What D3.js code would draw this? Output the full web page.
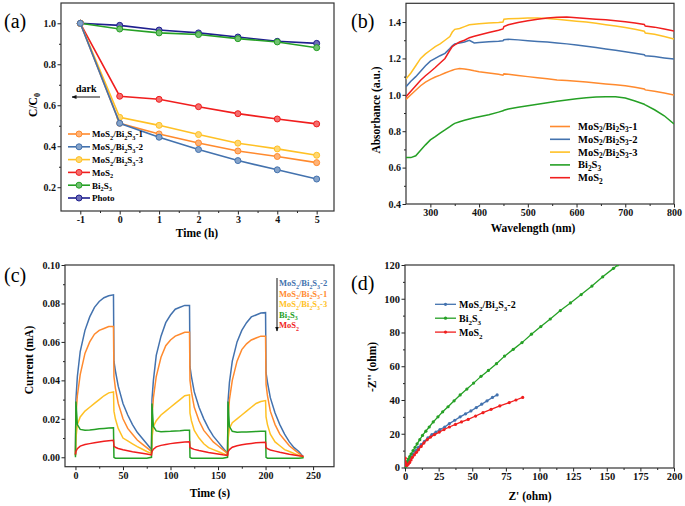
<!DOCTYPE html>
<html><head><meta charset="utf-8">
<script src="https://cdn.jsdelivr.net/npm/d3@7"></script>
<style>body{margin:0;background:#fff}svg{display:block}</style>
</head><body>
<script>
// ---------- DATA ----------
// (a) photodegradation
const aTimes = [-1, 0, 1, 2, 3, 4, 5];
const aLabels = ["MoS_2/Bi_2S_3-1", "MoS_2/Bi_2S_3-2", "MoS_2/Bi_2S_3-3", "MoS_2", "Bi_2S_3", "Photo"];
const aComp1 = [1.0, 0.512, 0.460, 0.416, 0.377, 0.350, 0.320];
const aComp2 = [1.0, 0.512, 0.444, 0.384, 0.330, 0.285, 0.240];
const aComp3 = [1.0, 0.541, 0.502, 0.457, 0.415, 0.387, 0.356];
const aMoS2  = [1.0, 0.644, 0.629, 0.593, 0.559, 0.533, 0.509];
const aBi2S3 = [1.0, 0.972, 0.953, 0.945, 0.925, 0.909, 0.881];
const aPhoto = [1.0, 0.990, 0.967, 0.953, 0.933, 0.912, 0.902];
const aXTicks = [-1, 0, 1, 2, 3, 4, 5];
const aYTicks = [0.2, 0.4, 0.6, 0.8, 1.0];

// (b) UV-vis absorbance
const bWave = [250,260,270,280,290,300,310,320,330,340,345,350,360,370,380,390,400,420,440,449,451,460,480,500,520,540,560,580,600,620,640,660,680,700,720,739,741,760,780,800];
const bLabels = ["MoS_2/Bi_2S_3-1", "MoS_2/Bi_2S_3-2", "MoS_2/Bi_2S_3-3", "Bi_2S_3", "MoS_2"];
const bComp1 = [0.975,1.0,1.025,1.05,1.07,1.085,1.098,1.108,1.12,1.13,1.135,1.14,1.145,1.142,1.138,1.132,1.127,1.12,1.113,1.108,1.115,1.113,1.106,1.10,1.094,1.088,1.082,1.079,1.075,1.07,1.065,1.06,1.055,1.05,1.042,1.032,1.027,1.02,1.01,0.999];
const bComp2 = [1.045,1.075,1.10,1.13,1.16,1.185,1.20,1.215,1.228,1.255,1.27,1.28,1.285,1.29,1.30,1.285,1.288,1.292,1.295,1.297,1.303,1.305,1.302,1.297,1.293,1.29,1.285,1.28,1.274,1.267,1.26,1.252,1.245,1.237,1.228,1.22,1.215,1.21,1.203,1.197];
const bComp3 = [1.087,1.12,1.16,1.20,1.225,1.245,1.265,1.28,1.30,1.32,1.345,1.36,1.365,1.375,1.385,1.388,1.39,1.395,1.398,1.40,1.415,1.418,1.42,1.422,1.422,1.42,1.415,1.41,1.405,1.40,1.393,1.385,1.378,1.37,1.36,1.35,1.34,1.333,1.32,1.307];
const bBi2S3 = [0.655,0.655,0.665,0.695,0.725,0.752,0.77,0.79,0.807,0.825,0.835,0.843,0.852,0.86,0.867,0.874,0.88,0.89,0.905,0.912,0.915,0.922,0.932,0.94,0.948,0.957,0.965,0.972,0.978,0.984,0.988,0.99,0.989,0.982,0.966,0.948,0.945,0.918,0.885,0.84];
const bMoS2  = [0.99,1.02,1.05,1.08,1.105,1.127,1.15,1.175,1.20,1.245,1.265,1.275,1.29,1.30,1.314,1.322,1.329,1.342,1.355,1.362,1.375,1.385,1.398,1.407,1.415,1.422,1.427,1.428,1.424,1.42,1.416,1.412,1.407,1.402,1.395,1.387,1.378,1.372,1.362,1.35];
const bXTicks = [300, 400, 500, 600, 700, 800];
const bYTicks = [0.4, 0.6, 0.8, 1.0, 1.2, 1.4];

// (c) transient photocurrent
const cTime = [0,0.5,2,5,10,15,20,25,30,35,40,40.5,42,45,50,55,60,65,70,75,
  80,80.5,82,85,90,95,100,105,110,115,120,120.5,122,125,130,135,140,145,150,155,
  160,160.5,162,165,170,175,180,185,190,195,200,200.5,202,205,210,215,220,225,230,235,240];
const cLabels = ["MoS_2/Bi_2S_3-2", "MoS_2/Bi_2S_3-1", "MoS_2/Bi_2S_3-3", "Bi_2S_3", "MoS_2"];
const cComp2 = [0.001,0.030,0.042,0.055,0.066,0.073,0.078,0.081,0.083,0.084,0.0845,0.050,0.045,0.037,0.028,0.022,0.017,0.013,0.010,0.007,
  0.004,0.030,0.040,0.053,0.063,0.070,0.074,0.077,0.078,0.079,0.079,0.047,0.042,0.034,0.026,0.020,0.015,0.011,0.008,0.005,
  0.002,0.029,0.039,0.050,0.060,0.066,0.070,0.073,0.074,0.075,0.0752,0.044,0.039,0.031,0.023,0.017,0.012,0.008,0.005,0.003,0.000];
const cComp1 = [0.001,0.022,0.032,0.043,0.054,0.060,0.064,0.066,0.067,0.068,0.068,0.042,0.036,0.028,0.020,0.015,0.012,0.009,0.007,0.005,
  0.003,0.021,0.031,0.042,0.052,0.058,0.061,0.063,0.064,0.065,0.065,0.040,0.034,0.026,0.019,0.014,0.011,0.008,0.006,0.004,
  0.002,0.020,0.030,0.040,0.050,0.056,0.059,0.061,0.062,0.063,0.063,0.038,0.032,0.024,0.017,0.012,0.009,0.006,0.004,0.002,0.000];
const cComp3 = [0.001,0.010,0.017,0.021,0.024,0.026,0.028,0.030,0.032,0.0335,0.034,0.024,0.020,0.015,0.010,0.0085,0.007,0.0055,0.0043,0.003,
  0.002,0.010,0.016,0.019,0.022,0.024,0.026,0.028,0.030,0.032,0.0325,0.023,0.019,0.014,0.010,0.007,0.005,0.004,0.003,0.002,
  0.001,0.009,0.015,0.018,0.020,0.022,0.024,0.026,0.028,0.029,0.0295,0.021,0.017,0.012,0.008,0.006,0.004,0.003,0.002,0.001,0.000];
const cBi2S3 = [0.000,0.029,0.017,0.0145,0.014,0.0142,0.0145,0.0148,0.015,0.0152,0.0153,0.000,-0.0005,-0.0005,-0.0005,-0.0005,-0.0005,-0.0005,-0.0005,-0.0005,
  0.000,0.028,0.016,0.0137,0.0133,0.0134,0.0135,0.0137,0.0138,0.014,0.014,0.000,-0.0005,-0.0005,-0.0005,-0.0005,-0.0005,-0.0005,-0.0005,-0.0005,
  0.000,0.029,0.016,0.0135,0.013,0.0131,0.0132,0.0133,0.0134,0.0135,0.0135,0.000,-0.0005,-0.0005,-0.0005,-0.0005,-0.0005,-0.0005,-0.0005,-0.0005,-0.0003];
const cMoS2 = [0.0015,0.003,0.0045,0.0058,0.0066,0.0071,0.0075,0.0079,0.0083,0.0086,0.0088,0.0058,0.0052,0.0046,0.0039,0.0034,0.0029,0.0025,0.0021,0.0017,
  0.0012,0.003,0.0042,0.0054,0.0062,0.0067,0.0071,0.0074,0.0077,0.0079,0.008,0.0052,0.0047,0.0041,0.0035,0.003,0.0025,0.0021,0.0017,0.0013,
  0.001,0.0028,0.004,0.0052,0.006,0.0065,0.0069,0.0072,0.0075,0.0077,0.0078,0.005,0.0045,0.0038,0.0032,0.0026,0.0021,0.0016,0.0012,0.0008,0.0005];
const cXTicks = [0, 50, 100, 150, 200, 250];
const cYTicks = [0.00, 0.02, 0.04, 0.06, 0.08, 0.10];

// (d) Nyquist plots: [Z', -Z'']
const dLabels = ["MoS_2/Bi_2S_3-2", "Bi_2S_3", "MoS_2"];
const dComp2 = [[0.5,0.5],[1,1.5],[2,3],[3,4.5],[4.5,6],[6,8],[8,10],[10,12],[12,13.5],[14.5,15.5],[17,17.5],[20,19.5],[23,21],[26,22.5],[29.5,24],[33,26],[37,28],[41,30],[45,31.8],[49,33.5],[53,35.5],[57,37.5],[61,39.5],[65,41.5],[68.5,43]];
const dBi2S3 = [[0.3,0.5],[0.8,2],[1.5,3.5],[2.5,5],[3.5,6.5],[4.5,8],[6,10],[7.5,12],[9,14],[11,16.5],[13,19],[15.5,21.5],[18,24],[21,27],[24.5,30],[28,33],[32,36],[36.5,39.5],[41,43],[46,46.5],[51,50],[56.5,54],[62,57.5],[68,61.5],[74,66],[80.5,70],[87,74],[94,79],[101,83.5],[108,88],[115.5,93],[123,97.5],[131,102.5],[139,107.5],[147,113],[155,118],[158,120]];
const dMoS2 = [[0.2,5.5],[0.4,3],[0.8,1.5],[1.5,1.2],[2.5,2],[3.5,3],[4.5,4.5],[5.5,6],[7,7.5],[8.5,9],[10,10.5],[12,12.5],[14,14.5],[16.5,16.5],[19,18],[22,19.5],[25.5,21],[29,22.5],[33,24],[37.5,25.5],[42,27],[47,28.5],[52.5,30.5],[58,32.5],[64,34.5],[70.5,36.5],[77.5,38.5],[82.5,40],[87.5,41.5]];
const dXTicks = [0, 25, 50, 75, 100, 125, 150, 175, 200];
const dYTicks = [0, 20, 40, 60, 80, 100, 120];

// ---------- STYLE ----------
const C = {orange:"#ff8a2e", blue:"#4372ae", yellow:"#ffc125", red:"#f01e1e", green:"#25a025", navy:"#1f1f8f"};
const FONT = "'Liberation Serif','Times New Roman',serif";

const svg = d3.select("body").append("svg").attr("width", 685).attr("height", 506)
  .style("font-family", FONT);

function rich(textSel, str, size, shift = 0.3) {
  // "_x" => subscript character
  const parts = [];
  for (let i = 0; i < str.length; i++) {
    if (str[i] === "_") { parts.push({t: str[i+1], sub: true}); i++; }
    else {
      if (parts.length && !parts[parts.length-1].sub) parts[parts.length-1].t += str[i];
      else parts.push({t: str[i], sub: false});
    }
  }
  let shifted = false;
  parts.forEach(p => {
    const ts = textSel.append("tspan").text(p.t);
    if (p.sub) { ts.attr("font-size", size*0.7).attr("dy", shifted ? 0 : size*shift); shifted = true; }
    else { if (shifted) ts.attr("dy", -size*shift); shifted = false; }
  });
  return textSel;
}

const plainNum = d => String(d);

function panel(p) {
  const g = svg.append("g");
  const [x0, x1] = p.x.range(), [y0, y1] = p.y.range();
  const id = "clip" + p.name;
  svg.append("clipPath").attr("id", id).append("rect")
    .attr("x", x0).attr("y", y1).attr("width", x1 - x0).attr("height", y0 - y1);
  const ax = (axis, vals, size, fmt) => axis.tickValues(vals).tickSize(size).tickPadding(1.5).tickFormat(fmt);
  const style = (s, fs) => {
    s.select(".domain").remove();
    s.selectAll("line").attr("stroke", "#222").attr("stroke-width", 1);
    s.selectAll("text").attr("font-family", FONT).attr("font-weight", "bold").attr("font-size", fs).attr("fill", "#111");
  };
  g.append("g").attr("transform", `translate(0,${y0})`).call(ax(d3.axisBottom(p.x), p.xMinor, 2, () => "")).call(s => style(s, p.fs));
  g.append("g").attr("transform", `translate(0,${y0})`).call(ax(d3.axisBottom(p.x), p.xTicks, 3.5, p.xFmt)).call(s => style(s, p.fs));
  g.append("g").attr("transform", `translate(${x0},0)`).call(ax(d3.axisLeft(p.y), p.yMinor, 2, () => "")).call(s => style(s, p.fs));
  g.append("g").attr("transform", `translate(${x0},0)`).call(ax(d3.axisLeft(p.y), p.yTicks, 3.5, p.yFmt)).call(s => style(s, p.fs));
  g.append("rect").attr("x", x0).attr("y", y1).attr("width", x1 - x0).attr("height", y0 - y1)
    .attr("fill", "none").attr("stroke", "#333").attr("stroke-width", 1.2);
  rich(g.append("text").attr("x", p.xt[0]).attr("y", p.xt[1]).attr("text-anchor", "middle")
    .attr("font-weight", "bold").attr("font-size", p.tfs), p.xTitle, p.tfs);
  rich(g.append("text").attr("transform", `translate(${p.yt[0]},${p.yt[1]}) rotate(-90)`).attr("text-anchor", "middle")
    .attr("font-weight", "bold").attr("font-size", p.tfs), p.yTitle, p.tfs);
  g.append("text").attr("x", p.lab[0]).attr("y", p.lab[1]).attr("font-size", 20).text(p.label);
  return g.append("g").attr("clip-path", `url(#${id})`);
}

svg.append("defs").append("marker").attr("id", "arr").attr("viewBox", "0 0 10 10").attr("refX", 9).attr("refY", 5)
  .attr("markerWidth", 5).attr("markerHeight", 5).attr("orient", "auto")
  .append("path").attr("d", "M0,1 L10,5 L0,9 z").attr("fill", "#111");

// ---------- (a) ----------
{
  const x = d3.scaleLinear().domain([-1.49, 5.44]).range([61, 334]);
  const y = d3.scaleLinear().domain([0.084, 1.099]).range([211, 3]);
  const plot = panel({name: "a", x, y, xTicks: aXTicks, xMinor: [-0.5,0.5,1.5,2.5,3.5,4.5], yTicks: aYTicks, yMinor: [0.3,0.5,0.7,0.9],
    xFmt: plainNum, yFmt: d3.format(".1f"), fs: 10, tfs: 11.5,
    xTitle: "Time (h)", yTitle: "C/C_0", xt: [197, 237], yt: [37, 105], label: "(a)", lab: [4, 28]});
  const series = [aComp1, aComp2, aComp3, aMoS2, aBi2S3, aPhoto];
  const cols = [C.orange, C.blue, C.yellow, C.red, C.green, C.navy];
  const line = d3.line().x((d, i) => x(aTimes[i])).y(d => y(d));
  [5, 4, 3, 2, 0, 1].forEach(k => {
    plot.append("path").datum(series[k]).attr("d", line).attr("fill", "none").attr("stroke", cols[k]).attr("stroke-width", 1.6);
    plot.selectAll(null).data(series[k]).enter().append("circle")
      .attr("cx", (d, i) => x(aTimes[i])).attr("cy", d => y(d)).attr("r", 3)
      .attr("fill", d3.interpolateRgb(cols[k], "#fff")(0.35)).attr("stroke", cols[k]).attr("stroke-width", 1);
  });
  const lg = svg.append("g");
  aLabels.forEach((lab, i) => {
    const yy = 134 + i * 12.8;
    lg.append("line").attr("x1", 68).attr("x2", 90).attr("y1", yy).attr("y2", yy).attr("stroke", cols[i]).attr("stroke-width", 1.6);
    lg.append("circle").attr("cx", 79).attr("cy", yy).attr("r", 3).attr("fill", d3.interpolateRgb(cols[i], "#fff")(0.35)).attr("stroke", cols[i]);
    rich(lg.append("text").attr("x", 92).attr("y", yy + 3.3).attr("font-size", 9).attr("font-weight", "bold"), lab, 9);
  });
  svg.append("text").attr("x", 76).attr("y", 92).attr("font-size", 10).attr("font-weight", "bold").text("dark");
  svg.append("line").attr("x1", 100).attr("x2", 72).attr("y1", 97).attr("y2", 97).attr("stroke", "#111").attr("stroke-width", 1).attr("marker-end", "url(#arr)");
}

// ---------- (b) ----------
{
  const x = d3.scaleLinear().domain([250, 800]).range([406, 674]);
  const y = d3.scaleLinear().domain([0.4, 1.503]).range([204, 3.3]);
  const plot = panel({name: "b", x, y, xTicks: bXTicks, xMinor: [350,450,550,650,750], yTicks: bYTicks, yMinor: [0.5,0.7,0.9,1.1,1.3],
    xFmt: plainNum, yFmt: d3.format(".1f"), fs: 10, tfs: 11.5,
    xTitle: "Wavelength (nm)", yTitle: "Absorbance (a.u.)", xt: [533, 232], yt: [380, 110], label: "(b)", lab: [351, 28]});
  const series = [bComp1, bComp2, bComp3, bBi2S3, bMoS2];
  const cols = [C.orange, C.blue, C.yellow, C.green, C.red];
  const line = d3.line().x((d, i) => x(bWave[i])).y(d => y(d));
  series.forEach((s, k) => plot.append("path").datum(s).attr("d", line).attr("fill", "none").attr("stroke", cols[k]).attr("stroke-width", 1.5));
  const lg = svg.append("g");
  bLabels.forEach((lab, i) => {
    const yy = 126.5 + i * 12.8;
    lg.append("line").attr("x1", 550).attr("x2", 570).attr("y1", yy).attr("y2", yy).attr("stroke", cols[i]).attr("stroke-width", 1.6);
    rich(lg.append("text").attr("x", 578).attr("y", yy + 3.5).attr("font-size", 10.5).attr("font-weight", "bold"), lab, 10.5, 0.22);
  });
}

// ---------- (c) ----------
{
  const x = d3.scaleLinear().domain([-11, 272]).range([65, 334]);
  const y = d3.scaleLinear().domain([-0.0049, 0.1]).range([466.7, 265]);
  const plot = panel({name: "c", x, y, xTicks: cXTicks, xMinor: [25,75,125,175,225], yTicks: cYTicks, yMinor: [0.01,0.03,0.05,0.07,0.09],
    xFmt: plainNum, yFmt: d3.format(".2f"), fs: 10, tfs: 11.5,
    xTitle: "Time (s)", yTitle: "Current (mA)", xt: [210, 497], yt: [33, 360], label: "(c)", lab: [4, 282]});
  const series = [cComp2, cComp1, cComp3, cBi2S3, cMoS2];
  const cols = [C.blue, C.orange, C.yellow, C.green, C.red];
  const line = d3.line().x((d, i) => x(cTime[i])).y(d => y(d));
  series.forEach((s, k) => plot.append("path").datum(s).attr("d", line).attr("fill", "none").attr("stroke", cols[k]).attr("stroke-width", 1.5));
  const lg = svg.append("g");
  cLabels.forEach((lab, i) => {
    rich(lg.append("text").attr("x", 279).attr("y", 286 + i * 10.5).attr("font-size", 8.5).attr("font-weight", "bold").attr("fill", cols[i]), lab, 8.5);
  });
  svg.append("line").attr("x1", 277).attr("x2", 277).attr("y1", 278).attr("y2", 331).attr("stroke", "#111").attr("stroke-width", 1).attr("marker-end", "url(#arr)");
}

// ---------- (d) ----------
{
  const x = d3.scaleLinear().domain([0, 200]).range([405, 674]);
  const y = d3.scaleLinear().domain([-0.3, 120]).range([468, 265]);
  const plot = panel({name: "d", x, y, xTicks: dXTicks, xMinor: [12.5,37.5,62.5,87.5,112.5,137.5,162.5,187.5], yTicks: dYTicks, yMinor: [10,30,50,70,90,110],
    xFmt: plainNum, yFmt: plainNum, fs: 10.5, tfs: 11.5,
    xTitle: "Z' (ohm)", yTitle: "-Z'' (ohm)", xt: [530, 500], yt: [376, 367], label: "(d)", lab: [351, 290]});
  const series = [dComp2, dBi2S3, dMoS2];
  const cols = [C.blue, C.green, C.red];
  const line = d3.line().x(d => x(d[0])).y(d => y(d[1]));
  series.forEach((s, k) => {
    plot.append("path").datum(s).attr("d", line).attr("fill", "none").attr("stroke", cols[k]).attr("stroke-width", 1.3);
    plot.selectAll(null).data(s).enter().append("circle").attr("cx", d => x(d[0])).attr("cy", d => y(d[1])).attr("r", 1.6).attr("fill", cols[k]);
  });
  const lg = svg.append("g");
  dLabels.forEach((lab, i) => {
    const yy = 304.3 + i * 13.9;
    lg.append("line").attr("x1", 435).attr("x2", 456).attr("y1", yy).attr("y2", yy).attr("stroke", cols[i]).attr("stroke-width", 1.3);
    lg.append("circle").attr("cx", 445.5).attr("cy", yy).attr("r", 1.6).attr("fill", cols[i]);
    rich(lg.append("text").attr("x", 459).attr("y", yy + 3.5).attr("font-size", 10).attr("font-weight", "bold"), lab, 10);
  });
}
</script>
</body></html>
